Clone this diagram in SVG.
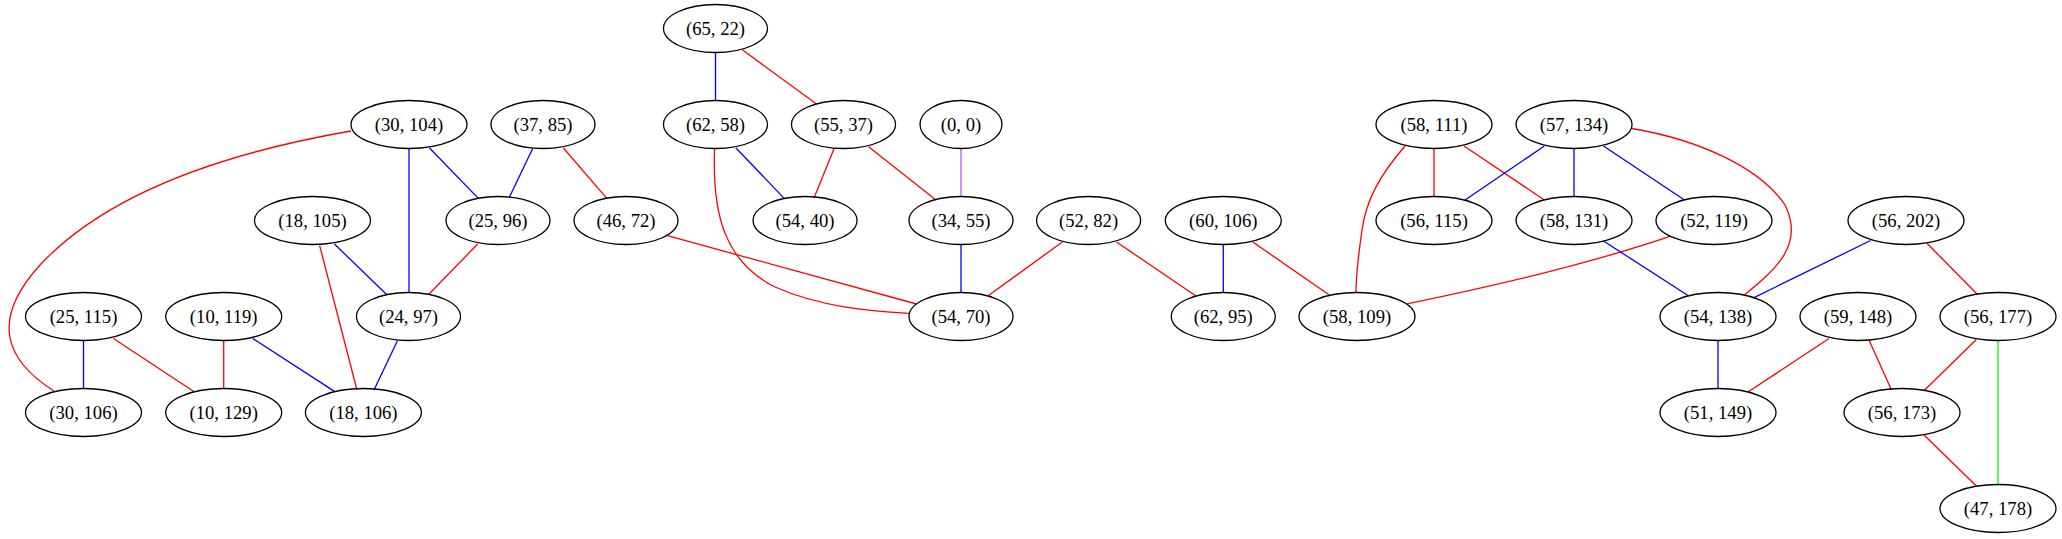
<svg xmlns="http://www.w3.org/2000/svg" width="2062" height="539" viewBox="0 0 2062 539">
<style>
.n ellipse{fill:none;stroke:#000;stroke-width:1.3}
.n text{font-family:"Liberation Serif","Times New Roman",serif;font-size:18.67px;text-anchor:middle;fill:#000}
#edges path{fill:none;stroke-width:1.3}
.r{stroke:#ff0000}.b{stroke:#0000ff}.g{stroke:#00ff00}.p{stroke:#b060f0}
</style>
<rect width="2062" height="539" fill="#fff"/>
<g id="edges">
<path class="r" d="M351,131 C230,152 110,190 40,265 C-10,320 5,360 54,391"/>
<path class="b" d="M429.5,148 L478.6,198.6"/>
<path class="b" d="M409,148.5 L409,292.5"/>
<path class="b" d="M532.6,148.8 L509,198"/>
<path class="r" d="M563.4,148 L607,198.6"/>
<path class="r" d="M667.4,235.7 L916.5,304"/>
<path class="r" d="M714.6,148.8 C712,215 725,262 775,287 C820,307 870,311 909,313.4"/>
<path class="b" d="M715.5,52.5 L715.5,100.5"/>
<path class="r" d="M742.3,49.8 L816.5,104"/>
<path class="b" d="M736,148 L784.4,198.6"/>
<path class="r" d="M834,148.8 L814,198"/>
<path class="r" d="M868.6,146.7 L936,200"/>
<path class="p" d="M961,148.5 L961,196.5"/>
<path class="b" d="M961,244.5 L961,292.5"/>
<path class="r" d="M1062.4,242 L987.8,296"/>
<path class="r" d="M1116.5,242 L1196,296"/>
<path class="b" d="M1223.3,244.5 L1223.3,292.5"/>
<path class="r" d="M1252.8,242 L1330,295.5"/>
<path class="r" d="M1405,146 C1380,175 1366,200 1362,230 C1358,258 1356,278 1356,292.5"/>
<path class="r" d="M1434,148.5 L1434,196.5"/>
<path class="r" d="M1464,146 L1544.4,200"/>
<path class="b" d="M1544.4,146 L1464,200.7"/>
<path class="b" d="M1574,148.5 L1574,196.5"/>
<path class="b" d="M1603.5,146 L1684.5,200"/>
<path class="r" d="M1632,128.5 C1700,140 1760,168 1785,205 C1805,245 1775,270 1744.5,294.8"/>
<path class="r" d="M1670,236.4 C1600,260 1500,285 1407,303.8"/>
<path class="b" d="M1603.5,241 L1688,295.5"/>
<path class="b" d="M1870.6,240.5 L1754,297.6"/>
<path class="r" d="M1927,243.3 L1977,294"/>
<path class="b" d="M1718,340.5 L1718,388.5"/>
<path class="r" d="M1829,338.5 L1748,392"/>
<path class="r" d="M1869,340 L1891.5,390"/>
<path class="r" d="M1976.3,339.5 L1924,390.7"/>
<path class="g" d="M1998,340.5 L1998,484.5"/>
<path class="r" d="M1924,435 L1976.3,486"/>
<path class="b" d="M334.4,244 L386.6,294.5"/>
<path class="r" d="M319.6,245.4 L357,390"/>
<path class="r" d="M477.7,244 L428.6,294.5"/>
<path class="b" d="M397.3,341 L374,390"/>
<path class="b" d="M83.5,340.5 L83.5,388.5"/>
<path class="r" d="M113.4,338.5 L194.6,392"/>
<path class="r" d="M223.7,340.5 L223.7,388.5"/>
<path class="b" d="M252.7,338.5 L334.4,391.4"/>
</g>
<g id="n_65_22" class="n"><ellipse cx="715.5" cy="28.5" rx="52" ry="24"/><text x="715.5" y="34.5">(65, 22)</text></g>
<g id="n_30_104" class="n"><ellipse cx="409" cy="124.5" rx="58" ry="24"/><text x="409" y="130.5">(30, 104)</text></g>
<g id="n_37_85" class="n"><ellipse cx="543" cy="124.5" rx="52" ry="24"/><text x="543" y="130.5">(37, 85)</text></g>
<g id="n_62_58" class="n"><ellipse cx="715.5" cy="124.5" rx="52" ry="24"/><text x="715.5" y="130.5">(62, 58)</text></g>
<g id="n_55_37" class="n"><ellipse cx="843.5" cy="124.5" rx="52" ry="24"/><text x="843.5" y="130.5">(55, 37)</text></g>
<g id="n_0_0" class="n"><ellipse cx="961" cy="124.5" rx="41" ry="24"/><text x="961" y="130.5">(0, 0)</text></g>
<g id="n_58_111" class="n"><ellipse cx="1434" cy="124.5" rx="58" ry="24"/><text x="1434" y="130.5">(58, 111)</text></g>
<g id="n_57_134" class="n"><ellipse cx="1574" cy="124.5" rx="58" ry="24"/><text x="1574" y="130.5">(57, 134)</text></g>
<g id="n_18_105" class="n"><ellipse cx="312.5" cy="220.5" rx="58" ry="24"/><text x="312.5" y="226.5">(18, 105)</text></g>
<g id="n_25_96" class="n"><ellipse cx="498" cy="220.5" rx="52" ry="24"/><text x="498" y="226.5">(25, 96)</text></g>
<g id="n_46_72" class="n"><ellipse cx="626" cy="220.5" rx="52" ry="24"/><text x="626" y="226.5">(46, 72)</text></g>
<g id="n_54_40" class="n"><ellipse cx="805" cy="220.5" rx="52" ry="24"/><text x="805" y="226.5">(54, 40)</text></g>
<g id="n_34_55" class="n"><ellipse cx="961" cy="220.5" rx="52" ry="24"/><text x="961" y="226.5">(34, 55)</text></g>
<g id="n_52_82" class="n"><ellipse cx="1088.6" cy="220.5" rx="52" ry="24"/><text x="1088.6" y="226.5">(52, 82)</text></g>
<g id="n_60_106" class="n"><ellipse cx="1223.3" cy="220.5" rx="58" ry="24"/><text x="1223.3" y="226.5">(60, 106)</text></g>
<g id="n_56_115" class="n"><ellipse cx="1434" cy="220.5" rx="58" ry="24"/><text x="1434" y="226.5">(56, 115)</text></g>
<g id="n_58_131" class="n"><ellipse cx="1574" cy="220.5" rx="58" ry="24"/><text x="1574" y="226.5">(58, 131)</text></g>
<g id="n_52_119" class="n"><ellipse cx="1714" cy="220.5" rx="58" ry="24"/><text x="1714" y="226.5">(52, 119)</text></g>
<g id="n_56_202" class="n"><ellipse cx="1906" cy="220.5" rx="58" ry="24"/><text x="1906" y="226.5">(56, 202)</text></g>
<g id="n_25_115" class="n"><ellipse cx="83.5" cy="316.5" rx="58" ry="24"/><text x="83.5" y="322.5">(25, 115)</text></g>
<g id="n_10_119" class="n"><ellipse cx="223.7" cy="316.5" rx="58" ry="24"/><text x="223.7" y="322.5">(10, 119)</text></g>
<g id="n_24_97" class="n"><ellipse cx="408.5" cy="316.5" rx="52" ry="24"/><text x="408.5" y="322.5">(24, 97)</text></g>
<g id="n_54_70" class="n"><ellipse cx="961" cy="316.5" rx="52" ry="24"/><text x="961" y="322.5">(54, 70)</text></g>
<g id="n_62_95" class="n"><ellipse cx="1223.3" cy="316.5" rx="52" ry="24"/><text x="1223.3" y="322.5">(62, 95)</text></g>
<g id="n_58_109" class="n"><ellipse cx="1357" cy="316.5" rx="58" ry="24"/><text x="1357" y="322.5">(58, 109)</text></g>
<g id="n_54_138" class="n"><ellipse cx="1718" cy="316.5" rx="58" ry="24"/><text x="1718" y="322.5">(54, 138)</text></g>
<g id="n_59_148" class="n"><ellipse cx="1858" cy="316.5" rx="58" ry="24"/><text x="1858" y="322.5">(59, 148)</text></g>
<g id="n_56_177" class="n"><ellipse cx="1998" cy="316.5" rx="58" ry="24"/><text x="1998" y="322.5">(56, 177)</text></g>
<g id="n_30_106" class="n"><ellipse cx="83.5" cy="412.5" rx="58" ry="24"/><text x="83.5" y="418.5">(30, 106)</text></g>
<g id="n_10_129" class="n"><ellipse cx="223.7" cy="412.5" rx="58" ry="24"/><text x="223.7" y="418.5">(10, 129)</text></g>
<g id="n_18_106" class="n"><ellipse cx="363.4" cy="412.5" rx="58" ry="24"/><text x="363.4" y="418.5">(18, 106)</text></g>
<g id="n_51_149" class="n"><ellipse cx="1718" cy="412.5" rx="58" ry="24"/><text x="1718" y="418.5">(51, 149)</text></g>
<g id="n_56_173" class="n"><ellipse cx="1902" cy="412.5" rx="58" ry="24"/><text x="1902" y="418.5">(56, 173)</text></g>
<g id="n_47_178" class="n"><ellipse cx="1998" cy="508.5" rx="58" ry="24"/><text x="1998" y="514.5">(47, 178)</text></g>
</svg>
